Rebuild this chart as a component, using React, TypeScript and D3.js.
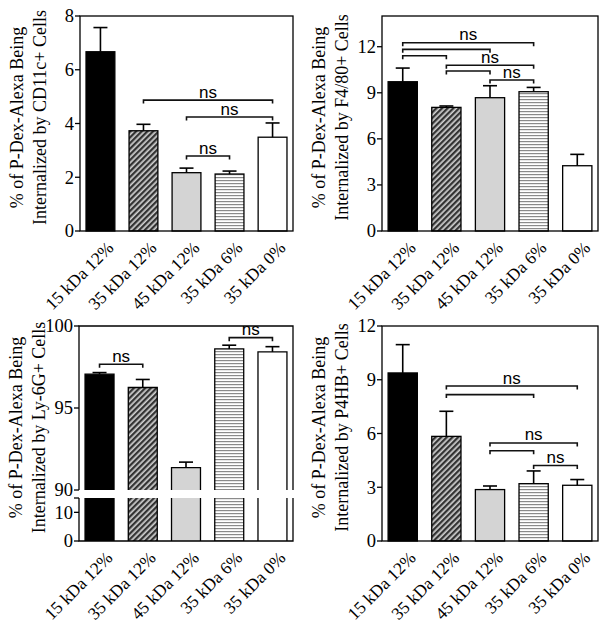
import React from "react";
import * as d3 from "d3";

const categories = ["15 kDa 12%", "35 kDa 12%", "45 kDa 12%", "35 kDa 6%", "35 kDa 0%"];

const cd11cMeans = [6.67, 3.73, 2.17, 2.12, 3.49];
const cd11cSems = [0.9, 0.24, 0.17, 0.11, 0.53];
const cd11cTicks = [0, 2, 4, 6, 8];
const cd11cBrackets: [number, number, number, string][] = [
  [1, 4, 4.87, "ns"],
  [2, 4, 4.24, "ns"],
  [2, 3, 2.79, "ns"],
];

const f480Means = [9.72, 8.05, 8.68, 9.07, 4.25];
const f480Sems = [0.89, 0.09, 0.78, 0.28, 0.74];
const f480Ticks = [0, 3, 6, 9, 12];
const f480Brackets: [number, number, number, string][] = [
  [0, 3, 12.26, "ns"],
  [0, 2, 11.83, ""],
  [0, 1, 11.41, ""],
  [1, 3, 10.79, "ns"],
  [1, 2, 10.42, ""],
  [2, 3, 9.83, "ns"],
];

const ly6gMeans = [97.06, 96.25, 91.36, 98.6, 98.42];
const ly6gSems = [0.1, 0.49, 0.34, 0.23, 0.32];
const ly6gUpperTicks = [90, 95, 100];
const ly6gLowerTicks = [0, 10];
const ly6gBrackets: [number, number, number, string][] = [
  [0, 1, 97.67, "ns"],
  [3, 4, 99.29, "ns"],
];

const p4hbMeans = [9.38, 5.84, 2.87, 3.2, 3.11];
const p4hbSems = [1.58, 1.4, 0.2, 0.71, 0.32];
const p4hbTicks = [0, 3, 6, 9, 12];
const p4hbBrackets: [number, number, number, string][] = [
  [1, 4, 8.65, "ns"],
  [1, 3, 8.17, ""],
  [2, 4, 5.47, "ns"],
  [2, 3, 5.04, ""],
  [3, 4, 4.21, "ns"],
];

const fills = ["#000", "url(#diag)", "#d4d4d4", "url(#horiz)", "#fff"];
const SERIF = "'Liberation Serif', 'Times New Roman', serif";
const SANS = "'Liberation Sans', Arial, sans-serif";

type BrkCfg = {
  upperDomain: [number, number];
  lowerDomain: [number, number];
  gapTop: number;
  gapBottom: number;
  upperTicks: number[];
  lowerTicks: number[];
};

type PanelProps = {
  x0: number; y0: number; x1: number; y1: number;
  yDomain?: [number, number];
  yTicks?: number[];
  means: number[];
  sems: number[];
  brackets: [number, number, number, string][];
  cellLabel: string;
  brk?: BrkCfg;
};

function Panel({ x0, y0, x1, y1, yDomain, yTicks, means, sems, brackets, cellLabel, brk }: PanelProps) {
  const x = d3.scaleBand<string>().domain(categories).range([x0, x1]).paddingInner(0.33).paddingOuter(0.14);
  const bw = x.bandwidth();
  let yU: d3.ScaleLinear<number, number>;
  let yL: d3.ScaleLinear<number, number> | null = null;
  if (brk) {
    yU = d3.scaleLinear().domain(brk.upperDomain).range([brk.gapTop, y0]);
    yL = d3.scaleLinear().domain(brk.lowerDomain).range([y1, brk.gapBottom]);
  } else {
    yU = d3.scaleLinear().domain(yDomain!).range([y1, y0]);
  }
  const y = (v: number) => yU(v);
  const sw = 1.3;
  const cx = (i: number) => (x(categories[i]) as number) + bw / 2;
  const labelCy = (y0 + y1) / 2 - 6;

  const tickEls: React.ReactNode[] = [];
  const addTick = (py: number, label: string, key: string) => {
    tickEls.push(
      <g key={key}>
        <line x1={x0 - 5} x2={x0} y1={py} y2={py} stroke="#000" strokeWidth={sw} />
        {label !== "" && (
          <text x={x0 - 6} y={py} dy="0.35em" textAnchor="end" fontFamily={SERIF} fontSize={18.5}>
            {label}
          </text>
        )}
      </g>
    );
  };
  if (brk && yL) {
    brk.upperTicks.forEach((t) => addTick(yU(t), String(t), "u" + t));
    brk.lowerTicks.forEach((t) => addTick(yL!(t), String(t), "l" + t));
    addTick(brk.gapBottom, "", "ltop");
  } else {
    yTicks!.forEach((t) => addTick(yU(t), String(t), "t" + t));
  }

  return (
    <g>
      {means.map((m, i) => {
        const bx = x(categories[i]) as number;
        if (brk && yL) {
          const top = yU(m);
          return (
            <g key={i}>
              <rect x={bx} y={top} width={bw} height={brk.gapTop - top} fill={fills[i]} />
              <rect x={bx} y={brk.gapBottom} width={bw} height={y1 - brk.gapBottom} fill={fills[i]} />
              <path
                d={`M${bx},${brk.gapTop}V${top}H${bx + bw}V${brk.gapTop}M${bx},${brk.gapBottom}V${y1}M${bx + bw},${brk.gapBottom}V${y1}`}
                fill="none" stroke="#000" strokeWidth={sw}
              />
            </g>
          );
        }
        const top = y(m);
        return (
          <rect key={i} x={bx} y={top} width={bw} height={y1 - top} fill={fills[i]} stroke="#000" strokeWidth={sw} />
        );
      })}
      {means.map((m, i) => {
        const c = cx(i);
        const top = y(m + sems[i]);
        return (
          <g key={"e" + i} stroke="#000" strokeWidth={1.6}>
            <line x1={c} x2={c} y1={y(m)} y2={top} />
            <line x1={c - 7} x2={c + 7} y1={top} y2={top} />
          </g>
        );
      })}
      {brk ? (
        <path
          d={`M${x0},${brk.gapTop}V${y0}H${x1}V${brk.gapTop}M${x1},${brk.gapBottom}V${y1}H${x0}V${brk.gapBottom}`}
          fill="none" stroke="#000" strokeWidth={sw}
        />
      ) : (
        <rect x={x0} y={y0} width={x1 - x0} height={y1 - y0} fill="none" stroke="#000" strokeWidth={sw} />
      )}
      {tickEls}
      {brackets.map(([a, b, v, lab], k) => {
        const xa = cx(a);
        const xb = cx(b);
        const py = y(v);
        return (
          <g key={"b" + k}>
            <path d={`M${xa},${py + 3.5}V${py}H${xb}V${py + 3.5}`} fill="none" stroke="#111" strokeWidth={1.6} />
            {lab && (
              <text x={(xa + xb) / 2} y={py - 2.5} textAnchor="middle" fontFamily={SANS} fontSize={17}>
                {lab}
              </text>
            )}
          </g>
        );
      })}
      {categories.map((c, i) => (
        <text
          key={"x" + i}
          transform={`translate(${cx(i) + 14},${y1 + 18}) rotate(-45)`}
          textAnchor="end"
          fontFamily={SERIF}
          fontSize={17.5}
        >
          {c}
        </text>
      ))}
      <text transform={`translate(${x0 - 57},${labelCy}) rotate(-90)`} textAnchor="middle" fontFamily={SERIF} fontSize={18}>
        % of P-Dex-Alexa Being
      </text>
      <text transform={`translate(${x0 - 34},${labelCy}) rotate(-90)`} textAnchor="middle" fontFamily={SERIF} fontSize={18}>
        {`Internalized by ${cellLabel} Cells`}
      </text>
    </g>
  );
}

export default function App() {
  return (
    <svg width={612} height={630} style={{ position: "absolute", left: 0, top: 0, background: "#fff" }}>
      <defs>
        <pattern id="diag" patternUnits="userSpaceOnUse" width={4} height={4} patternTransform="rotate(45)">
          <rect width={4} height={4} fill="#cfcfcf" />
          <rect width={2.3} height={4} fill="#333" />
        </pattern>
        <pattern id="horiz" patternUnits="userSpaceOnUse" width={4} height={3}>
          <rect width={4} height={3} fill="#fff" />
          <rect width={4} height={1.2} fill="#8a8a8a" />
        </pattern>
      </defs>
      <rect width={612} height={630} fill="#fff" />
      <Panel x0={80} y0={16} x1={293} y1={231} yDomain={[0, 8]} yTicks={cd11cTicks}
        means={cd11cMeans} sems={cd11cSems} brackets={cd11cBrackets} cellLabel="CD11c+" />
      <Panel x0={382} y0={16} x1={598} y1={231} yDomain={[0, 14]} yTicks={f480Ticks}
        means={f480Means} sems={f480Sems} brackets={f480Brackets} cellLabel="F4/80+" />
      <Panel x0={79} y0={326} x1={293} y1={541}
        brk={{ upperDomain: [90, 100], lowerDomain: [0, 15], gapTop: 490, gapBottom: 498, upperTicks: ly6gUpperTicks, lowerTicks: ly6gLowerTicks }}
        means={ly6gMeans} sems={ly6gSems} brackets={ly6gBrackets} cellLabel="Ly-6G+" />
      <Panel x0={382} y0={326} x1={598} y1={541} yDomain={[0, 12]} yTicks={p4hbTicks}
        means={p4hbMeans} sems={p4hbSems} brackets={p4hbBrackets} cellLabel="P4HB+" />
    </svg>
  );
}
